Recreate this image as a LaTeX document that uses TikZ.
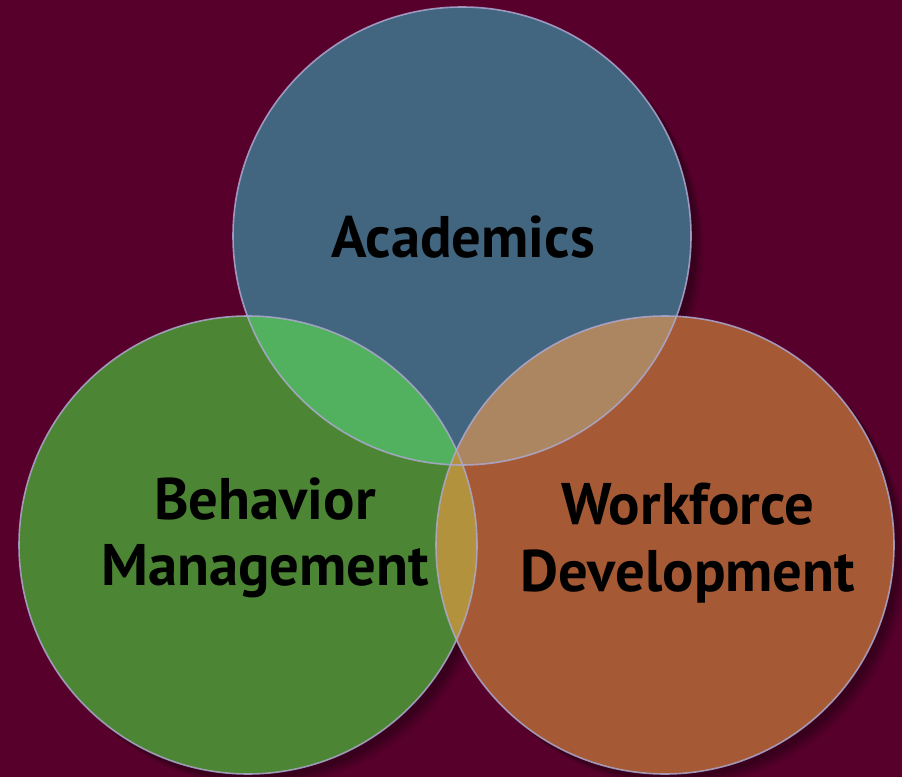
\documentclass[tikz,border=0pt]{standalone}
\usepackage{fontspec}
\setmainfont{PT Sans}

\tikzset{every picture/.style={line width=0.75pt}}

\begin{document}
\begin{tikzpicture}[x=0.75pt,y=0.75pt,yscale=-1,xscale=1]
\useasboundingbox (0,0) rectangle (902,777);

%Shape: Rectangle (background)
\fill [color={rgb, 255:red, 88; green, 0; blue, 44 }] (0,0) rectangle (902,777);

%Shadows
\foreach \s/\o in {13/0.10,11/0.12,9/0.15,7/0.18,5/0.2}{
  \fill [color={rgb, 255:red, 35; green, 0; blue, 18 }, opacity=\o] (462+\s,236+\s) circle (229);
  \fill [color={rgb, 255:red, 35; green, 0; blue, 18 }, opacity=\o] (248+\s,545+\s) circle (229);
  \fill [color={rgb, 255:red, 35; green, 0; blue, 18 }, opacity=\o] (665+\s,545+\s) circle (229);
}

%Shape: Circle [Academics]
\fill [color={rgb, 255:red, 66; green, 102; blue, 128 }] (462,236) circle (229);
%Shape: Circle [Behavior]
\fill [color={rgb, 255:red, 76; green, 134; blue, 52 }] (248,545) circle (229);
%Shape: Circle [Workforce]
\fill [color={rgb, 255:red, 165; green, 90; blue, 53 }] (665,545) circle (229);

%Overlap: top / left
\begin{scope}
\clip (462,236) circle (229);
\fill [color={rgb, 255:red, 82; green, 177; blue, 94 }] (248,545) circle (229);
\end{scope}
%Overlap: top / right
\begin{scope}
\clip (462,236) circle (229);
\fill [color={rgb, 255:red, 172; green, 134; blue, 96 }] (665,545) circle (229);
\end{scope}
%Overlap: left / right
\begin{scope}
\clip (248,545) circle (229);
\fill [color={rgb, 255:red, 179; green, 146; blue, 62 }] (665,545) circle (229);
\end{scope}

%Outlines
\draw [color={rgb, 255:red, 172; green, 168; blue, 208 }, draw opacity=0.85, line width=1.2] (462,236) circle (229);
\draw [color={rgb, 255:red, 172; green, 168; blue, 208 }, draw opacity=0.85, line width=1.2] (248,545) circle (229);
\draw [color={rgb, 255:red, 172; green, 168; blue, 208 }, draw opacity=0.85, line width=1.2] (665,545) circle (229);

% Text Node
\draw (463,237) node (acad) [font=\fontsize{44}{50}\selectfont\bfseries] {Academics};
% Text Node
\draw (265,538) node (behav) [font=\fontsize{44}{50}\selectfont\bfseries, align=center] {Behavior\\Management};
% Text Node
\draw (688,543) node (work) [font=\fontsize{44}{50}\selectfont\bfseries, align=center] {Workforce\\Development};

\end{tikzpicture}
\end{document}
